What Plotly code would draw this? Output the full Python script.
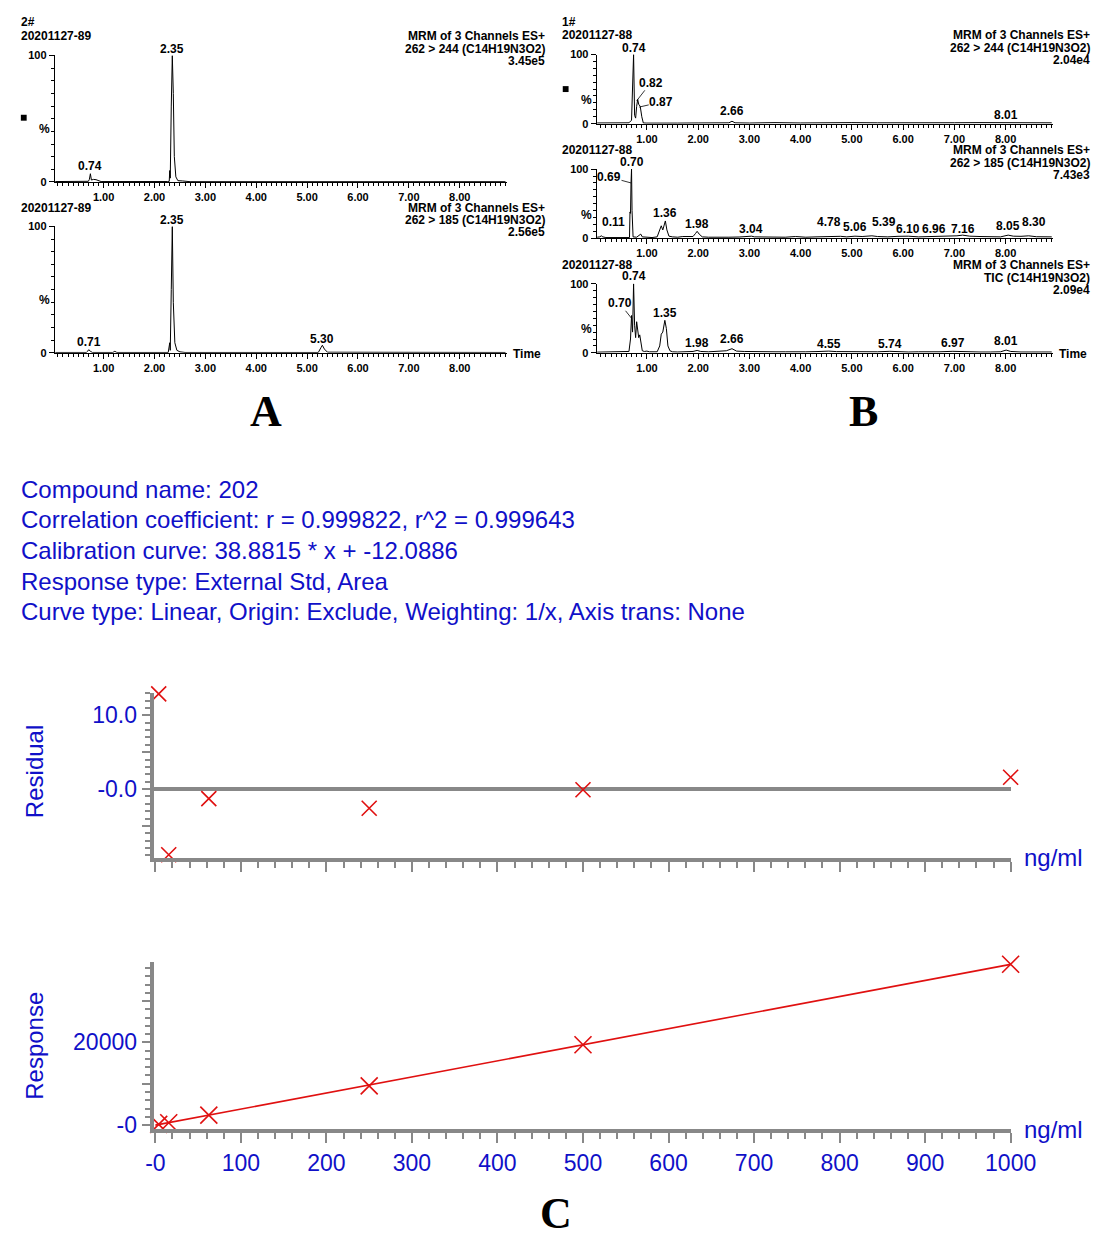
import plotly.graph_objects as go

# The page body keeps its default 8px margin, so the figure is drawn 8px smaller
# and every reference pixel position is shifted by that margin.
OFF = 8
W, H = 1120 - OFF, 1246 - OFF


def fx(px):
    return (px - OFF) / W


def fy(py):
    return 1 - (py - OFF) / H


# ---------------- data: chromatograms (time in min, intensity in %) ----------------
a1_time = [0.05, 0.60, 0.70, 0.72, 0.74, 0.76, 0.80, 0.85, 0.90, 0.95, 2.26, 2.29, 2.30,
           2.31, 2.33, 2.35, 2.37, 2.39, 2.42, 2.46, 2.55, 2.62, 2.70, 8.90]
a1_int = [0.3, 0.3, 0.5, 2.0, 6.5, 1.5, 2.0, 1.8, 1.2, 0.3, 0.3, 0.5, 9.0,
          3.0, 60, 100, 70, 20, 4.0, 1.0, 0.8, 0.6, 0.2, 0.2]

a2_time = [0.05, 0.66, 0.69, 0.71, 0.74, 0.78, 1.18, 1.22, 1.26, 2.27, 2.30, 2.31, 2.33,
           2.35, 2.37, 2.40, 2.44, 2.50, 2.60, 5.22, 5.27, 5.30, 5.34, 5.40, 8.90]
a2_int = [0.3, 0.3, 1.5, 2.5, 1.2, 0.3, 0.3, 1.2, 0.3, 0.3, 8.0, 2.0, 50,
          100, 40, 8.0, 2.0, 0.8, 0.3, 0.3, 4.0, 6.0, 3.0, 0.5, 0.3]

b1_time = [0.03, 0.3, 0.5, 0.65, 0.70, 0.72, 0.74, 0.76, 0.78, 0.80, 0.82, 0.84, 0.87,
           0.90, 0.93, 1.0, 1.3, 1.6, 2.0, 2.4, 2.6, 2.66, 2.72, 3.0, 3.5, 4.0, 4.6,
           4.8, 5.0, 5.5, 6.0, 6.5, 7.0, 7.5, 7.9, 8.01, 8.1, 8.5, 8.9]
b1_int = [1.0, 1.3, 0.8, 1.2, 5.0, 60, 100, 12, 8.0, 25, 35, 28, 25,
          10, 1.0, 0.8, 1.2, 0.8, 1.0, 1.5, 1.2, 3.5, 1.2, 0.9, 1.5, 1.0, 1.8,
          2.0, 1.5, 1.2, 0.9, 1.1, 1.3, 1.5, 1.4, 2.2, 1.4, 1.3, 1.2]

b2_time = [0.03, 0.08, 0.11, 0.14, 0.2, 0.3, 0.4, 0.5, 0.6, 0.66, 0.67, 0.68, 0.69, 0.70,
           0.71, 0.72, 0.73, 0.8, 0.86, 0.88, 0.91, 1.0, 1.1, 1.2, 1.26, 1.28, 1.31, 1.33,
           1.36, 1.39, 1.43, 1.5, 1.6, 1.7, 1.8, 1.9, 1.95, 1.98, 2.02, 2.08, 2.2, 2.4,
           2.6, 2.8, 3.0, 3.04, 3.1, 3.3, 3.5, 3.7, 3.9, 4.1, 4.3, 4.5, 4.7, 4.78, 4.9,
           5.06, 5.2, 5.39, 5.5, 5.7, 5.9, 6.1, 6.3, 6.5, 6.7, 6.96, 7.05, 7.16, 7.3,
           7.5, 7.7, 7.9, 8.05, 8.15, 8.3, 8.45, 8.6, 8.75, 8.9]
b2_int = [1.5, 2.0, 3.5, 2.0, 1.0, 0.8, 1.2, 1.0, 0.8, 1.0, 38, 36, 80, 100,
          40, 8.0, 2.0, 1.5, 6.0, 6.0, 2.0, 1.2, 1.0, 2.0, 14, 18, 12, 16,
          25, 12, 3.0, 2.0, 1.5, 2.5, 2.0, 2.5, 7.0, 10, 6.0, 2.0, 1.5, 2.0,
          1.5, 1.8, 2.5, 3.0, 2.0, 1.5, 2.0, 1.5, 2.5, 1.5, 2.0, 2.5, 2.0, 2.8, 2.0,
          3.0, 2.5, 3.5, 2.5, 2.0, 2.8, 3.0, 2.0, 2.5, 2.2, 3.0, 3.5, 4.5, 3.0,
          2.5, 2.8, 2.0, 4.5, 3.0, 2.8, 3.5, 2.2, 2.5, 2.0]

b3_time = [0.03, 0.2, 0.4, 0.55, 0.65, 0.68, 0.70, 0.72, 0.74, 0.76, 0.78, 0.80, 0.82,
           0.84, 0.86, 0.88, 0.91, 0.95, 1.0, 1.05, 1.1, 1.2, 1.25, 1.28, 1.31, 1.33,
           1.35, 1.38, 1.41, 1.45, 1.5, 1.6, 1.7, 1.8, 1.9, 1.98, 2.05, 2.2, 2.4, 2.55,
           2.66, 2.75, 2.9, 3.1, 3.3, 3.5, 3.7, 3.9, 4.1, 4.3, 4.55, 4.7, 4.9, 5.1,
           5.3, 5.5, 5.74, 5.9, 6.1, 6.3, 6.5, 6.7, 6.97, 7.1, 7.3, 7.5, 7.7, 7.9,
           8.01, 8.1, 8.3, 8.5, 8.7, 8.9]
b3_int = [1.0, 1.2, 1.0, 1.2, 2.0, 20, 54, 30, 100, 40, 22, 45, 35,
          22, 26, 15, 3.0, 2.0, 2.5, 1.5, 1.5, 1.5, 10, 27, 30, 38,
          47, 35, 10, 3.0, 1.5, 1.2, 1.5, 1.8, 2.0, 3.5, 2.0, 1.5, 2.0, 3.0,
          6.0, 2.5, 2.0, 1.5, 1.8, 1.5, 1.5, 1.2, 1.5, 1.8, 2.5, 1.8, 1.5, 1.2,
          1.5, 1.5, 2.2, 1.5, 1.2, 1.5, 1.2, 1.5, 2.2, 1.8, 1.5, 1.2, 1.2, 1.5,
          4.0, 2.0, 1.2, 1.5, 1.2, 1.2]

# peak labels: (text, time, % height of label centre, x shift px)
a1_peaks = [("0.74", 0.74, 12.5, 0), ("2.35", 2.35, 105, 0)]
a2_peaks = [("0.71", 0.71, 8.6, 0), ("2.35", 2.35, 105, 0), ("5.30", 5.30, 11, 0)]
b1_peaks = [("0.74", 0.74, 109, 0), ("2.66", 2.66, 19, 0), ("8.01", 8.01, 13, 0)]
b2_peaks = [("0.70", 0.70, 110, 0), ("0.11", 0.11, 23, 12), ("1.36", 1.36, 36, 0),
            ("1.98", 1.98, 20, 0), ("3.04", 3.04, 14, 0), ("4.78", 4.78, 24, -12),
            ("5.06", 5.06, 16, 0), ("5.39", 5.39, 23, 12), ("6.10", 6.10, 14, 0),
            ("6.96", 6.96, 14, -18), ("7.16", 7.16, 14, 0), ("8.05", 8.05, 17, 0),
            ("8.30", 8.30, 23, 13)]
b3_peaks = [("0.74", 0.74, 111, 0), ("1.35", 1.35, 57, 0), ("1.98", 1.98, 14, 0),
            ("2.66", 2.66, 20, 0), ("4.55", 4.55, 13, 0), ("5.74", 5.74, 13, 0),
            ("6.97", 6.97, 14, 0), ("8.01", 8.01, 17, 0)]
# labels with leader lines: (text, tip time, tip %, text dx px, text dy px)
b1_lead = [("0.82", 0.80, 33, 14, -18), ("0.87", 0.85, 24, 22, -5)]
b2_lead = [("0.69", 0.69, 80, -22, -6)]
b3_lead = [("0.70", 0.70, 50, -12, -15)]

time_ticks = [1, 2, 3, 4, 5, 6, 7, 8]
time_ticktext = ["1.00", "2.00", "3.00", "4.00", "5.00", "6.00", "7.00", "8.00"]

# ---------------- data: calibration ----------------
conc = [3.9, 15.625, 62.5, 250, 500, 1000]
residual = [12.9, -8.9, -1.3, -2.6, -0.1, 1.6]
response = [150, 560, 2400, 9480, 19420, 38900]
slope, intercept = 38.8815, -12.0886
fit_x = [0, 1000]

conc_ticks = [0, 100, 200, 300, 400, 500, 600, 700, 800, 900, 1000]
conc_ticktext = ["-0", "100", "200", "300", "400", "500", "600", "700", "800", "900", "1000"]
res_ticks = [-5, 0, 5, 10]
res_ticktext = ["", "-0.0", "", "10.0"]
resp_ticks = [0, 10000, 20000, 30000]
resp_ticktext = ["-0", "", "20000", ""]

info_lines = [
    "Compound name: 202",
    "Correlation coefficient: r = 0.999822, r^2 = 0.999643",
    "Calibration curve: 38.8815 * x + -12.0886",
    "Response type: External Std, Area",
    "Curve type: Linear, Origin: Exclude, Weighting: 1/x, Axis trans: None",
]

BLUE = "#1010c8"
GRAY = "#888888"
RED = "#e01010"
CH_FONT = dict(family="Liberation Sans", size=12, color="black", weight="bold")
TICK_CH = dict(family="Liberation Sans", size=11, color="black", weight="bold")

fig = go.Figure()
layout = dict(width=W, height=H, margin=dict(l=0, r=0, t=0, b=0),
              paper_bgcolor="white", plot_bgcolor="white", showlegend=False)
annotations = []
shapes = []


def paper_text(txt, px, py, font, xanchor="center", yanchor="middle", **kw):
    annotations.append(dict(x=fx(px), y=fy(py), xref="paper", yref="paper", text=txt,
                            showarrow=False, xanchor=xanchor, yanchor=yanchor,
                            font=font, **kw))


# (time, intensity, peaks, leaders, x0px, x1px, ytop px, ybot px, time range, "%" y px)
panels = [
    (a1_time, a1_int, a1_peaks, [], 48, 514, 50, 178, [0.04, 8.92], 124),
    (a2_time, a2_int, a2_peaks, [], 48, 514, 223, 351, [0.04, 8.92], 298),
    (b1_time, b1_int, b1_peaks, b1_lead, 607, 1078, 49, 119, [0.02, 8.93], 95),
    (b2_time, b2_int, b2_peaks, b2_lead, 607, 1078, 165, 235, [0.02, 8.93], 211),
    (b3_time, b3_int, b3_peaks, b3_lead, 607, 1078, 281, 351, [0.02, 8.93], 327),
]

for i, (tt, yy, peaks, leads, x0, x1, yt, yb, trange, pct_y) in enumerate(panels, start=1):
    xa = "x" if i == 1 else f"x{i}"
    ya = "y" if i == 1 else f"y{i}"
    fig.add_trace(go.Scatter(x=tt, y=yy, mode="lines", xaxis=xa, yaxis=ya,
                             line=dict(color="black", width=1), hoverinfo="skip"))
    xk = "xaxis" if i == 1 else f"xaxis{i}"
    yk = "yaxis" if i == 1 else f"yaxis{i}"
    layout[xk] = dict(domain=[fx(x0), fx(x1)], anchor=ya, range=trange,
                      showline=True, linecolor="black", linewidth=1,
                      ticks="outside", ticklen=5, tickwidth=1, tickcolor="black",
                      tickmode="array", tickvals=time_ticks, ticktext=time_ticktext,
                      tickfont=TICK_CH,
                      minor=dict(ticks="outside", ticklen=3, tickcolor="black",
                                 tickmode="linear", tick0=0, dtick=0.1),
                      showgrid=False, zeroline=False)
    layout[yk] = dict(domain=[fy(yb), fy(yt)], anchor=xa, range=[0, 100],
                      showline=True, linecolor="black", linewidth=1,
                      ticks="outside", ticklen=5, tickwidth=1, tickcolor="black",
                      tickmode="array", tickvals=[0, 100], ticktext=["0", "100"],
                      tickfont=TICK_CH,
                      minor=dict(ticks="outside", ticklen=3, tickcolor="black",
                                 tickmode="linear", tick0=0, dtick=10),
                      showgrid=False, zeroline=False)
    px_per_pct = (yb - yt) / 100.0
    for (txt, t, p, dx) in peaks:
        yv, ys = (p, 0) if p <= 100 else (100, (p - 100) * px_per_pct)
        annotations.append(dict(x=t, y=yv, xref=xa, yref=ya, text=txt, showarrow=False,
                                xanchor="center", yanchor="middle",
                                xshift=dx, yshift=ys, font=CH_FONT))
    for (txt, t, p, ax, ay) in leads:
        annotations.append(dict(x=t, y=p, xref=xa, yref=ya, text=txt, showarrow=True,
                                arrowhead=0, arrowwidth=0.8, arrowcolor="black",
                                ax=ax, ay=ay, font=CH_FONT, borderpad=0))
    paper_text("%", x0 - 11, pct_y, CH_FONT)

headers = [
    ("2#", 12, 16, "left"), ("20201127-89", 12, 30, "left"),
    ("MRM of 3 Channels ES+", 555, 30, "right"), ("262 > 244 (C14H19N3O2)", 555, 43, "right"),
    ("3.45e5", 555, 56, "right"),
    ("20201127-89", 12, 204, "left"),
    ("MRM of 3 Channels ES+", 555, 204, "right"), ("262 > 185 (C14H19N3O2)", 555, 217, "right"),
    ("2.56e5", 555, 229, "right"),
    ("Time", 520, 352, "left"),
    ("1#", 570, 16, "left"), ("20201127-88", 570, 29, "left"),
    ("MRM of 3 Channels ES+", 1117, 29, "right"), ("262 > 244 (C14H19N3O2)", 1117, 42, "right"),
    ("2.04e4", 1117, 55, "right"),
    ("20201127-88", 570, 146, "left"),
    ("MRM of 3 Channels ES+", 1117, 146, "right"), ("262 > 185 (C14H19N3O2)", 1117, 159, "right"),
    ("7.43e3", 1117, 171, "right"),
    ("20201127-88", 570, 262, "left"),
    ("MRM of 3 Channels ES+", 1117, 262, "right"), ("TIC (C14H19N3O2)", 1117, 275, "right"),
    ("2.09e4", 1117, 287, "right"),
    ("Time", 1083, 352, "left"),
]
for txt, px, py, anc in headers:
    paper_text(txt, px, py, CH_FONT, xanchor=anc, borderpad=0)

for (sx, sy) in [(16, 113), (575, 84)]:
    shapes.append(dict(type="rect", xref="paper", yref="paper",
                       x0=fx(sx - 3), x1=fx(sx + 3), y0=fy(sy + 3), y1=fy(sy - 3),
                       fillcolor="black", line=dict(width=0)))

LETTER = dict(family="Liberation Serif", size=44, color="black", weight="bold")
for txt, px, py in [("A", 266, 410), ("B", 882, 410), ("C", 565, 1222)]:
    paper_text(txt, px, py, LETTER)

INFO = dict(family="Liberation Sans", size=24, color=BLUE)
for k, line in enumerate(info_lines):
    paper_text(line, 11, 489 + 31 * k, INFO, xanchor="left")

# ---------------- calibration plots ----------------
TICKF = dict(family="Liberation Sans", size=23, color=BLUE)
fig.add_trace(go.Scatter(x=conc, y=residual, mode="markers", xaxis="x6", yaxis="y6",
                         marker=dict(symbol="x-thin", size=15, line=dict(color=RED, width=1.6)),
                         cliponaxis=False, hoverinfo="skip"))
fit_y = [slope * v + intercept for v in fit_x]
fig.add_trace(go.Scatter(x=fit_x, y=fit_y, mode="lines", xaxis="x7", yaxis="y7",
                         line=dict(color=RED, width=1.6), hoverinfo="skip"))
fig.add_trace(go.Scatter(x=conc, y=response, mode="markers", xaxis="x7", yaxis="y7",
                         marker=dict(symbol="x-thin", size=17, line=dict(color=RED, width=1.6)),
                         cliponaxis=False, hoverinfo="skip"))

common_x = dict(range=[-2, 1000], showline=True, linecolor=GRAY, linewidth=4,
                ticks="outside", ticklen=10, tickwidth=2, tickcolor=GRAY,
                tickmode="array", tickvals=conc_ticks,
                minor=dict(ticks="outside", ticklen=6, tickwidth=2, tickcolor=GRAY,
                           tickmode="linear", tick0=0, dtick=20),
                showgrid=False, zeroline=False)
layout["xaxis6"] = dict(common_x, domain=[fx(150), fx(1034)], anchor="y6",
                        showticklabels=False)
layout["xaxis7"] = dict(common_x, domain=[fx(150), fx(1034)], anchor="y7",
                        ticktext=conc_ticktext, tickfont=TICKF)
layout["yaxis6"] = dict(domain=[fy(862), fy(695)], anchor="x6", range=[-9.3, 13.07],
                        showline=True, linecolor=GRAY, linewidth=4,
                        ticks="outside", ticklen=8, tickwidth=2, tickcolor=GRAY,
                        tickmode="array", tickvals=res_ticks, ticktext=res_ticktext,
                        tickfont=TICKF,
                        minor=dict(ticks="outside", ticklen=5, tickwidth=2, tickcolor=GRAY,
                                   tickmode="linear", tick0=0, dtick=1),
                        showgrid=False, zeroline=True, zerolinecolor=GRAY, zerolinewidth=4)
layout["yaxis7"] = dict(domain=[fy(1137), fy(968)], anchor="x7", range=[-1030, 39355],
                        showline=True, linecolor=GRAY, linewidth=4,
                        ticks="outside", ticklen=8, tickwidth=2, tickcolor=GRAY,
                        tickmode="array", tickvals=resp_ticks, ticktext=resp_ticktext,
                        tickfont=TICKF,
                        minor=dict(ticks="outside", ticklen=5, tickwidth=2, tickcolor=GRAY,
                                   tickmode="linear", tick0=0, dtick=2000),
                        showgrid=False, zeroline=False)

AXT = dict(family="Liberation Sans", size=24, color=BLUE)
paper_text("Residual", 27, 775, AXT, textangle=-90)
paper_text("Response", 27, 1052, AXT, textangle=-90)
paper_text("ng/ml", 1078, 862, AXT)
paper_text("ng/ml", 1078, 1137, AXT)

layout["annotations"] = annotations
layout["shapes"] = shapes
fig.update_layout(**layout)
fig.write_html("out.html", config={"displayModeBar": False})
